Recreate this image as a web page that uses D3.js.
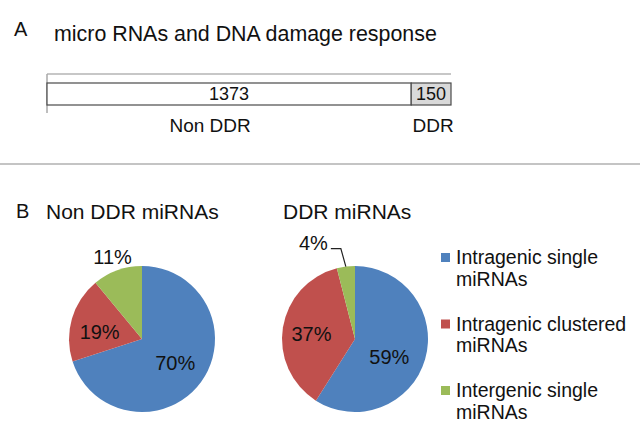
<!DOCTYPE html>
<html><head><meta charset="utf-8">
<script src="https://cdn.jsdelivr.net/npm/d3@7"></script>
<style>html,body{margin:0;padding:0;background:#fff;} svg{display:block;font-family:"Liberation Sans",Arial,sans-serif;}</style>
</head><body><svg id="chart" width="640" height="436"></svg>
<script>
// ---- data ----
const barCategories = ["Non DDR", "DDR"];
const barValues = [1373, 150];
const pieTitles = ["Non DDR miRNAs", "DDR miRNAs"];
const sliceNames = ["Intragenic single miRNAs", "Intragenic clustered miRNAs", "Intergenic single miRNAs"];
const legendLines = [["Intragenic single", "miRNAs"], ["Intragenic clustered", "miRNAs"], ["Intergenic single", "miRNAs"]];
const nonDdrShares = [70, 19, 11];
const ddrShares = [59, 37, 4];
const sliceColors = ["#4F81BD", "#C0504D", "#9BBB59"];
const barFills = ["#ffffff", "#d9d9d9"];

// ---- layout ----
const svg = d3.select("#chart");
svg.append("rect").attr("width", 640).attr("height", 436).attr("fill", "#fff");

// Panel A
svg.append("text").attr("x", 14).attr("y", 36).attr("font-size", 20).attr("fill", "#111").text("A");
svg.append("text").attr("x", 54).attr("y", 41).attr("font-size", 21.4).attr("fill", "#111")
  .text("micro RNAs and DNA damage response");

const total = d3.sum(barValues);
const x = d3.scaleLinear().domain([0, total]).range([47, 451]);
const yb = d3.scaleBand().domain(["all"]).range([74, 114]).paddingInner(0.45).paddingOuter(0);
const stacked = barValues.map((v, i) => ({ v, i, x0: d3.sum(barValues.slice(0, i)), x1: d3.sum(barValues.slice(0, i + 1)) }));

// top axis line and left category axis
svg.append("line").attr("x1", x(0)).attr("x2", x(total)).attr("y1", yb.range()[0]).attr("y2", yb.range()[0])
  .attr("stroke", "#b4b4b4").attr("stroke-width", 1.5);
svg.append("line").attr("x1", x(0)).attr("x2", x(0)).attr("y1", yb.range()[0]).attr("y2", yb.range()[1] - 1)
  .attr("stroke", "#a8a8a8").attr("stroke-width", 1.5);

svg.selectAll("rect.seg").data(stacked).enter().append("rect").attr("class", "seg")
  .attr("x", d => x(d.x0)).attr("width", d => x(d.x1) - x(d.x0))
  .attr("y", yb("all")).attr("height", yb.bandwidth())
  .attr("fill", d => barFills[d.i]).attr("stroke", "#4a4a4a").attr("stroke-width", 1.2);

svg.selectAll("text.val").data(stacked).enter().append("text").attr("class", "val")
  .attr("x", d => (x(d.x0) + x(d.x1)) / 2).attr("y", yb("all") + yb.bandwidth() / 2)
  .attr("dy", "0.36em").attr("text-anchor", "middle").attr("font-size", 18).attr("fill", "#111")
  .text(d => d.v);

const catOffsets = [-19, 2];
svg.selectAll("text.cat").data(stacked).enter().append("text").attr("class", "cat")
  .attr("x", d => (x(d.x0) + x(d.x1)) / 2 + catOffsets[d.i]).attr("y", 132)
  .attr("text-anchor", "middle").attr("font-size", 19).attr("fill", "#111")
  .text(d => barCategories[d.i]);

// divider
svg.append("line").attr("x1", 0).attr("x2", 640).attr("y1", 164).attr("y2", 164)
  .attr("stroke", "#c4c4c4").attr("stroke-width", 2);

// Panel B
svg.append("text").attr("x", 16).attr("y", 218).attr("font-size", 20).attr("fill", "#111").text("B");

const r = 73;
const pies = [
  { title: pieTitles[0], shares: nonDdrShares, cx: 142, titleX: 46,
    labelOffsets: [[0, 0], [-3, 4], [0, 0]], outside: [false, false, true] },
  { title: pieTitles[1], shares: ddrShares, cx: 355, titleX: 283,
    labelOffsets: [[-5, 6], [-3, 1], [0, 0]], outside: [false, false, true] }
];
const cy = 339;
const pie = d3.pie().sort(null).value(d => d);
const arc = d3.arc().innerRadius(0).outerRadius(r);
const labelArc = d3.arc().innerRadius(41).outerRadius(41);
const edgeArc = d3.arc().innerRadius(r).outerRadius(r);
const outArc = d3.arc().innerRadius(87).outerRadius(87);

pies.forEach((p, pi) => {
  svg.append("text").attr("x", p.titleX).attr("y", 219).attr("font-size", 21).attr("fill", "#111").text(p.title);
  const g = svg.append("g").attr("transform", `translate(${p.cx},${cy})`);
  const arcs = pie(p.shares);
  g.selectAll("path").data(arcs).enter().append("path")
    .attr("d", arc).attr("fill", (d, i) => sliceColors[i]);
  arcs.forEach((d, i) => {
    let pos;
    if (!p.outside[i]) {
      const c = labelArc.centroid(d);
      pos = [c[0] + p.labelOffsets[i][0], c[1] + p.labelOffsets[i][1]];
      g.append("text").attr("x", pos[0]).attr("y", pos[1]).attr("dy", "0.36em")
        .attr("text-anchor", "middle").attr("font-size", 20).attr("fill", "#111").text(d.data + "%");
    } else if (pi === 0) {
      const c = outArc.centroid(d);
      g.append("text").attr("x", c[0]).attr("y", c[1]).attr("dy", "0.36em")
        .attr("text-anchor", "middle").attr("font-size", 20).attr("fill", "#111").text(d.data + "%");
    } else {
      const e = edgeArc.centroid(d);
      const elbow = [e[0] - 5, e[1] - 18];
      const end = [elbow[0] - 10, elbow[1]];
      g.append("polyline").attr("points", [e, elbow, end].map(q => q.join(",")).join(" "))
        .attr("fill", "none").attr("stroke", "#222").attr("stroke-width", 1.2);
      g.append("text").attr("x", end[0] - 3).attr("y", end[1] - 6).attr("dy", "0.36em")
        .attr("text-anchor", "end").attr("font-size", 20).attr("fill", "#111").text(d.data + "%");
    }
  });
});

// legend
const lg = svg.append("g");
legendLines.forEach((lines, i) => {
  const top = 264 + i * 66.5;
  lg.append("rect").attr("x", 441).attr("y", top - 11).attr("width", 9).attr("height", 9).attr("fill", sliceColors[i]);
  lines.forEach((t, j) => {
    lg.append("text").attr("x", 456).attr("y", top + j * 21.5).attr("font-size", 19.5).attr("fill", "#111").text(t);
  });
});
</script></body></html>
